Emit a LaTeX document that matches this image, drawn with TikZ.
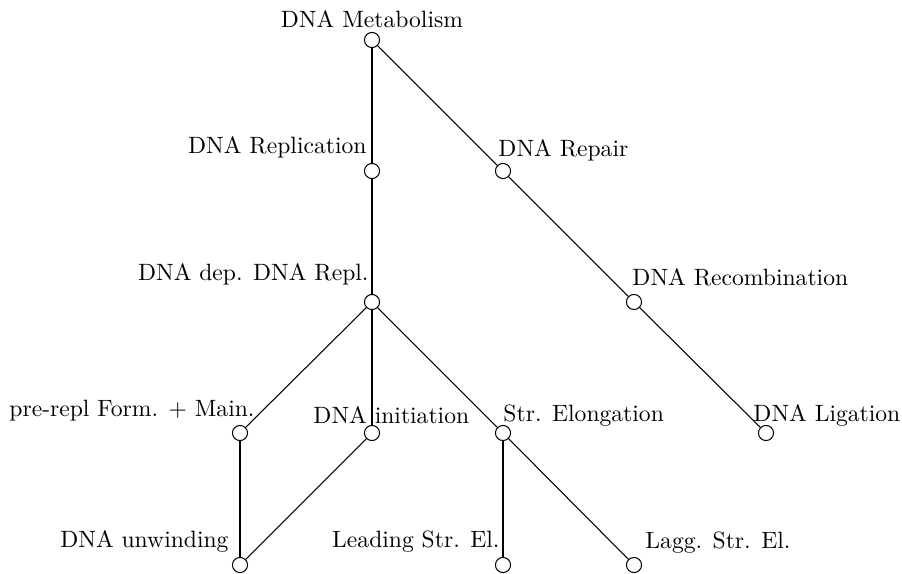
\documentclass[tikz,border=0pt]{standalone}
\begin{document}
\begin{tikzpicture}[x=0.4237pt,y=-0.4237pt,
  vtx/.style={circle,draw,line width=0.45pt,minimum size=6.4pt,inner sep=0pt,fill=white},
  lbl/.style={inner sep=0pt,font=\fontsize{10}{12}\selectfont},
  edge/.style={line width=0.45pt}]
\useasboundingbox (0,0) rectangle (902,573);
% vertices
\node[vtx] (m)    at (372,40)  {};
\node[vtx] (rep)  at (372,171) {};
\node[vtx] (rpr)  at (503,171) {};
\node[vtx] (dep)  at (372,302) {};
\node[vtx] (rec)  at (634,302) {};
\node[vtx] (pre)  at (240,433) {};
\node[vtx] (ini)  at (372,433) {};
\node[vtx] (el)   at (503,433) {};
\node[vtx] (lig)  at (766,433) {};
\node[vtx] (unw)  at (240,565) {};
\node[vtx] (lead) at (503,565) {};
\node[vtx] (lagg) at (634,565) {};
% edges
\draw[edge] (m) -- (rep);
\draw[edge] (m) -- (rpr);
\draw[edge] (rpr) -- (rec);
\draw[edge] (rec) -- (lig);
\draw[edge] (rep) -- (dep);
\draw[edge] (dep) -- (pre);
\draw[edge] (dep) -- (ini);
\draw[edge] (dep) -- (el);
\draw[edge] (pre) -- (unw);
\draw[edge] (ini) -- (unw);
\draw[edge] (el) -- (lead);
\draw[edge] (el) -- (lagg);
% labels
\node[lbl,anchor=base] (mL) at (372,27) {DNA Metabolism};
\node[lbl,anchor=base east] (repL) at (367,153) {DNA Replication};
\node[lbl,anchor=base west] (rprL) at (498,156) {DNA Repair};
\node[lbl,anchor=base east] (depL) at (369,280) {DNA dep. DNA Repl.};
\node[lbl,anchor=base west] (recL) at (632,285) {DNA Recombination};
\node[lbl,anchor=base east] (preL) at (255,416) {pre-repl Form. + Main.};
\node[lbl,anchor=base west] (iniL) at (313,423) {DNA initiation};
\node[lbl,anchor=base west] (elL) at (503,421) {Str. Elongation};
\node[lbl,anchor=base west] (ligL) at (753,421) {DNA Ligation};
\node[lbl,anchor=base east] (unwL) at (229,547) {DNA unwinding};
\node[lbl,anchor=base east] (leadL) at (500,547) {Leading Str. El.};
\node[lbl,anchor=base west] (laggL) at (645,548) {Lagg. Str. El.};
\end{tikzpicture}
\end{document}
